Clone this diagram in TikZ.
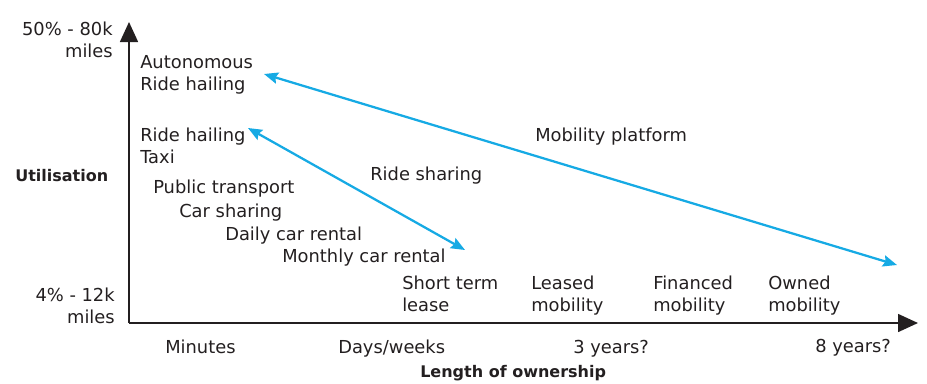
\documentclass[tikz,border=0pt]{standalone}
\usepackage{fontspec}
\setmainfont{DejaVu Sans}
\usetikzlibrary{arrows.meta}
\definecolor{skyblue}{RGB}{22,170,228}
\definecolor{inkgrey}{RGB}{35,31,32}

\begin{document}
\begin{tikzpicture}[x=0.75pt, y=-0.75pt,
  every node/.style={inner sep=0pt, text=inkgrey, font=\fontsize{13.4}{16.5}\selectfont},
  lbl/.style={anchor=base west, align=left},
  axislabel/.style={anchor=base west, font=\fontsize{12}{16.5}\selectfont\bfseries},
  axis/.style={line width=1.2pt, inkgrey, -{Triangle[length=15pt, width=13.5pt]}},
  trend/.style={line width=1.7pt, skyblue, {Stealth[length=10.5pt, width=8.5pt, inset=1.5pt]}-{Stealth[length=10.5pt, width=8.5pt, inset=1.5pt]}}]
\useasboundingbox (0,0) rectangle (927,383);

%the axes
\coordinate (O) at (129,323);
\coordinate (ytip) at (129,22);
\coordinate (xtip) at (918,323);
\draw [axis] (O) -- (ytip);
\draw [axis] (O) -- (xtip);

%the utilisation scale (base = last line)
\node (ymax) [anchor=base east, align=right] at (113,57) {50\% - 80k\\miles};
\node (ymin) [anchor=base east, align=right] at (115,323) {4\% - 12k\\miles};
\node (ylabel) [axislabel] at (15,181) {Utilisation};

%the ownership scale
\node (minutes) [lbl] at (165,353) {Minutes};
\node (days) [lbl] at (338,353) {Days/weeks};
\node (three) [lbl] at (573,353) {3 years?};
\node (eight) [lbl] at (815,352) {8 years?};
\node (xlabel) [axislabel] at (420,377) {Length of ownership};

%the modes
\node (autonomous) [lbl] at (140,90) {Autonomous\\Ride hailing};
\node (hailing) [lbl] at (140,163) {Ride hailing\\Taxi};
\node (public) [lbl] at (153,193) {Public transport};
\node (carshare) [lbl] at (179,217) {Car sharing};
\node (daily) [lbl] at (225,240) {Daily car rental};
\node (monthly) [lbl] at (282,262) {Monthly car rental};
\node (shortterm) [lbl] at (402,311) {Short term\\lease};
\node (leased) [lbl] at (531,311) {Leased\\mobility};
\node (financed) [lbl] at (653,311) {Financed\\mobility};
\node (owned) [lbl] at (768,311) {Owned\\mobility};

%the trends
\node (sharing) [lbl] at (370,180) {Ride sharing};
\node (platform) [lbl] at (535,141) {Mobility platform};
\coordinate (sharetop) at (248,128);
\coordinate (sharebot) at (465,250);
\coordinate (plattop) at (264,74);
\coordinate (platbot) at (897,265);
\draw [trend] (sharetop) -- (sharebot);
\draw [trend] (plattop) -- (platbot);
\end{tikzpicture}
\end{document}
